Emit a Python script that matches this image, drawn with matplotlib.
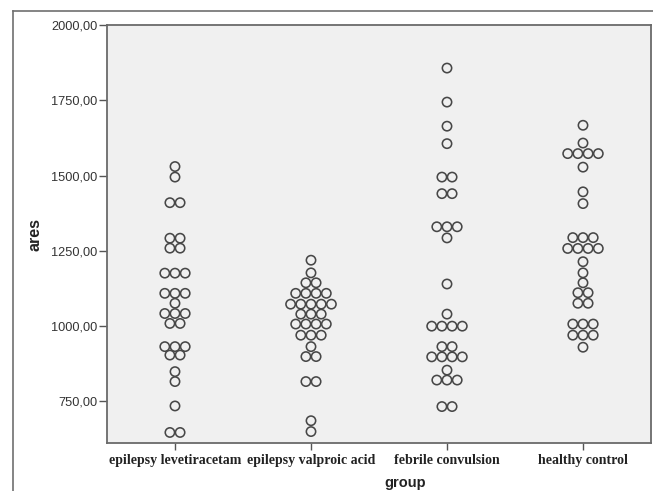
import matplotlib
matplotlib.use("Agg")
import matplotlib.pyplot as plt
from matplotlib.lines import Line2D
from collections import Counter

groups = ["epilepsy levetiracetam", "epilepsy valproic acid", "febrile convulsion", "healthy control"]

levetiracetam = [1530, 1495, 1410, 1410, 1292, 1292, 1259, 1259, 1176, 1176, 1176,
                 1109, 1109, 1109, 1076, 1042, 1042, 1042, 1009, 1009, 932, 932, 932,
                 904, 904, 849, 816, 735, 647, 647]
valproic = [1219, 1177, 1144, 1144, 1109, 1109, 1109, 1109, 1073, 1073, 1073, 1073, 1073,
            1040, 1040, 1040, 1007, 1007, 1007, 1007, 970, 970, 970, 932, 899, 899,
            816, 816, 686, 650]
febrile = [1857, 1744, 1664, 1606, 1495, 1495, 1440, 1440, 1330, 1330, 1330, 1293,
           1140, 1040, 1000, 1000, 1000, 1000, 932, 932, 898, 898, 898, 898, 854,
           821, 821, 821, 733, 733]
healthy = [1667, 1608, 1573, 1573, 1573, 1573, 1528, 1446, 1407, 1294, 1294, 1294,
           1258, 1258, 1258, 1258, 1214, 1177, 1144, 1111, 1111, 1076, 1076,
           1007, 1007, 1007, 970, 970, 970, 930]
series = [levetiracetam, valproic, febrile, healthy]

ytick_vals = [750, 1000, 1250, 1500, 1750, 2000]

W, H = 653, 491
fig = plt.figure(figsize=(W / 100, H / 100), dpi=100)
fig.patch.set_facecolor("white")
left, right, top, bottom = 107, 651, 25, 443
ax = fig.add_axes([left / W, 1 - bottom / H, (right - left) / W, (bottom - top) / H])
ax.set_facecolor("#f0f0f0")
ax.set_xlim(-0.5, 3.5)
ax.set_ylim(612, 2000)

# dot spacing: ~10 px in data units
px_per_unit = (right - left) / 4.0
d = 10.2 / px_per_unit

for gi, vals in enumerate(series):
    cnt = Counter(vals)
    xs, ys = [], []
    for v, n in cnt.items():
        for i in range(n):
            xs.append(gi + (i - (n - 1) / 2) * d)
            ys.append(v)
    ax.scatter(xs, ys, s=6.7 ** 2, facecolors="none", edgecolors="#474747",
               linewidths=1.15, zorder=3)

ax.set_xticks(range(len(groups)))
ax.set_xticklabels(groups, fontfamily="Liberation Serif", fontweight="bold",
                   fontsize=10, color="#222222")
ax.set_yticks(ytick_vals)
ax.set_yticklabels([f"{v},00" for v in ytick_vals], fontfamily="Liberation Sans",
                   fontsize=9.2, color="#333333")
ax.tick_params(axis="y", length=6, width=1, color="#555555", pad=1)
ax.tick_params(axis="x", length=5, width=1, color="#555555", pad=3)

for s in ax.spines.values():
    s.set_color("#6a6a6a")
    s.set_linewidth(1.3)

fig.text(35 / W, 1 - 235 / H, "ares", rotation=90, ha="center", va="center",
         fontfamily="Liberation Sans", fontweight="bold", fontsize=11.5, color="#222222")
fig.text(405 / W, 1 - 476 / H, "group", ha="center", va="top",
         fontfamily="Liberation Sans", fontweight="bold", fontsize=10.5, color="#222222")

# outer frame (top and left edges visible)
fig.add_artist(Line2D([13 / W, 1.0], [1 - 11 / H, 1 - 11 / H], transform=fig.transFigure,
                      color="#707070", linewidth=1.2))
fig.add_artist(Line2D([13 / W, 13 / W], [1 - 11 / H, 0.0], transform=fig.transFigure,
                      color="#707070", linewidth=1.2))

fig.savefig("out.png", dpi=100, facecolor="white")
